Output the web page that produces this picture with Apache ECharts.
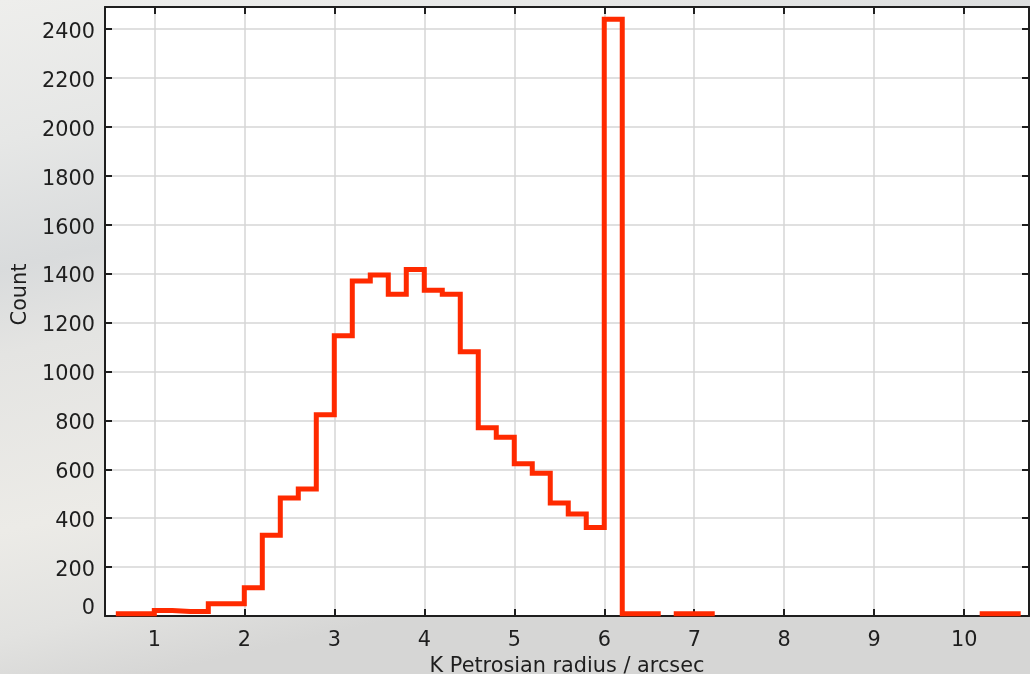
<!DOCTYPE html>
<html>
<head>
<meta charset="utf-8">
<title>K Petrosian radius histogram</title>
<script src="https://cdn.jsdelivr.net/npm/echarts@6/dist/echarts.min.js"></script>
<style>
  html, body { margin: 0; padding: 0; }
  #chart { width: 1030px; height: 674px; }
</style>
</head>
<body>
<div id="chart"></div>
<script>
// Histogram of K-band Petrosian radius, 0.2 arcsec bins.
// Only non-empty bins are listed; a gap in binLeft breaks the outline.
const binWidth = 0.2;
const binLeft = [
  0.6, 0.8, 1.0, 1.2, 1.4, 1.6, 1.8, 2.0, 2.2, 2.4,
  2.6, 2.8, 3.0, 3.2, 3.4, 3.6, 3.8, 4.0, 4.2, 4.4,
  4.6, 4.8, 5.0, 5.2, 5.4, 5.6, 5.8, 6.0, 6.2, 6.4,
  6.8, 7.0, 10.2, 10.4
];
const binCount = [
  9, 9, 22, 18, 18, 50, 50, 116, 330, 482,
  519, 823, 1146, 1370, 1394, 1316, 1417, 1332, 1316, 1080,
  770, 731, 622, 584, 462, 417, 362, 2440, 9, 9,
  9, 9, 9, 9
];

const xTicks = [1, 2, 3, 4, 5, 6, 7, 8, 9, 10];
const yTicks = [0, 200, 400, 600, 800, 1000, 1200, 1400, 1600, 1800, 2000, 2200, 2400];

const xRange = [0.452, 10.72];
const yRange = [0, 2490];

// Split the bins into contiguous runs; each run becomes one step outline.
function buildRuns() {
  const runs = [];
  let cur = [];
  for (let i = 0; i < binLeft.length; i++) {
    cur.push([binLeft[i], binCount[i]]);
    const right = +(binLeft[i] + binWidth).toFixed(4);
    const nextLeft = i + 1 < binLeft.length ? binLeft[i + 1] : null;
    if (nextLeft === null || Math.abs(nextLeft - right) > 1e-6) {
      cur.push([right, binCount[i]]);
      runs.push(cur);
      cur = [];
    }
  }
  return runs;
}

const FONT = 'DejaVu Sans';
const FS = 20.8;
const INK = '#1e1e1e';
const RED = '#ff2a00';

const chart = echarts.init(document.getElementById('chart'), null, { renderer: 'canvas' });

const series = buildRuns().map(run => ({
  type: 'line',
  step: 'end',
  data: run,
  xAxisIndex: 0,
  yAxisIndex: 0,
  showSymbol: false,
  silent: true,
  clip: false,
  z: 5,
  lineStyle: { color: RED, width: 5, join: 'miter', cap: 'square' }
}));

const frameLine = { show: true, onZero: false, lineStyle: { color: INK, width: 2 } };

chart.setOption({
  animation: false,
  backgroundColor: {
    type: 'linear', x: 0, y: 0, x2: 0.15, y2: 1,
    colorStops: [
      { offset: 0.0, color: '#eeeeec' },
      { offset: 0.2, color: '#e6e7e6' },
      { offset: 0.38, color: '#d9dbdc' },
      { offset: 0.5, color: '#e4e4e2' },
      { offset: 0.75, color: '#ecebe7' },
      { offset: 0.9, color: '#e2e2e0' },
      { offset: 1.0, color: '#d6d6d5' }
    ]
  },
  grid: {
    left: 105, right: 1, top: 7, bottom: 58,
    containLabel: false,
    outerBoundsMode: 'none',
    show: true, backgroundColor: '#ffffff', borderWidth: 0
  },
  xAxis: [
    {
      type: 'value', position: 'bottom',
      min: xRange[0], max: xRange[1],
      name: 'K Petrosian radius / arcsec',
      nameLocation: 'middle', nameGap: 38,
      nameTextStyle: { fontFamily: FONT, fontSize: FS, color: INK },
      axisLine: frameLine,
      axisTick: { show: true, inside: true, length: 7, customValues: xTicks, lineStyle: { color: INK, width: 2 } },
      axisLabel: { show: true, customValues: xTicks, margin: 14, fontFamily: FONT, fontSize: FS, color: INK },
      splitLine: { show: true, lineStyle: { color: '#d6d6d6', width: 1.5 } }
    },
    {
      type: 'value', position: 'top',
      min: xRange[0], max: xRange[1],
      axisLine: frameLine,
      axisTick: { show: true, inside: true, length: 7, customValues: xTicks, lineStyle: { color: INK, width: 2 } },
      axisLabel: { show: false },
      splitLine: { show: false }
    }
  ],
  yAxis: [
    {
      type: 'value', position: 'left',
      min: yRange[0], max: yRange[1],
      name: 'Count',
      nameLocation: 'middle', nameGap: 70, nameRotate: 90,
      nameTextStyle: { fontFamily: FONT, fontSize: FS, color: INK, padding: [0, 0, 0, 34] },
      axisLine: frameLine,
      axisTick: { show: true, inside: true, length: 7, customValues: yTicks, lineStyle: { color: INK, width: 2 } },
      axisLabel: {
        show: true, customValues: yTicks, margin: 10,
        fontFamily: FONT, fontSize: FS, color: INK,
        formatter: v => (v === 0 ? '{z|0}' : '{n|' + v + '}'),
        rich: {
          n: { fontFamily: FONT, fontSize: FS, color: INK, padding: [7, 0, 0, 0] },
          z: { fontFamily: FONT, fontSize: FS, color: INK, padding: [0, 0, 15, 0] }
        }
      },
      splitLine: { show: true, lineStyle: { color: '#d6d6d6', width: 1.5 } }
    },
    {
      type: 'value', position: 'right',
      min: yRange[0], max: yRange[1],
      axisLine: frameLine,
      axisTick: { show: true, inside: true, length: 7, customValues: yTicks, lineStyle: { color: INK, width: 2 } },
      axisLabel: { show: false },
      splitLine: { show: false }
    }
  ],
  series: series
});
</script>
</body>
</html>
